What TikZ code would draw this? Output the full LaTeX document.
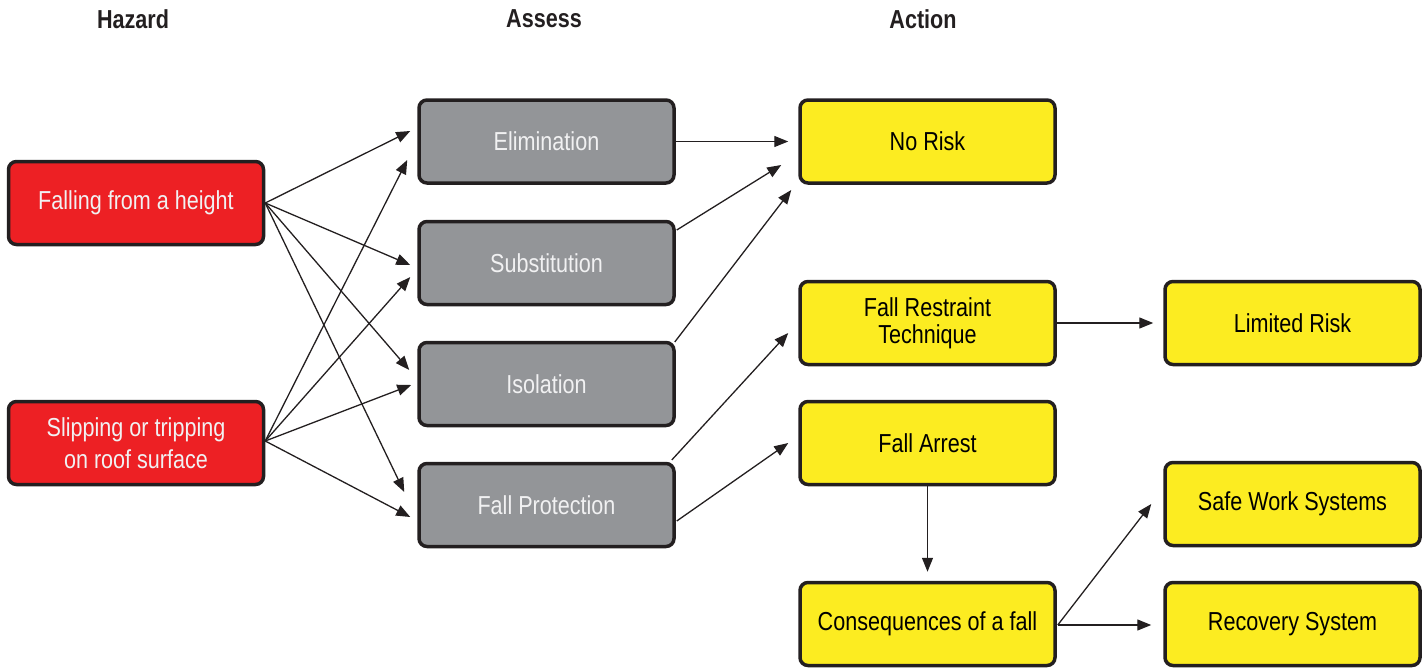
\documentclass[tikz,border=0pt]{standalone}
\usepackage{fontspec}
\setmainfont[FakeStretch=0.83]{Liberation Sans}
\usetikzlibrary{arrows.meta,calc}
\definecolor{hazred}{HTML}{ED2024}
\definecolor{assgray}{HTML}{939598}
\definecolor{actyellow}{HTML}{FCEC21}
\definecolor{edge}{HTML}{231F20}
\definecolor{lighttext}{HTML}{F1F1F2}
\tikzset{
  box/.style={draw=edge, line width=3.5pt, rounded corners=8pt, minimum width=255pt,
    minimum height=83pt, inner sep=0pt, align=center, font=\fontsize{26}{29}\selectfont},
  hazbox/.style={box, fill=hazred, text=lighttext},
  assbox/.style={box, fill=assgray, text=lighttext},
  actbox/.style={box, fill=actyellow, text=black},
  head/.style={font=\fontsize{26}{29}\selectfont\bfseries, text=edge},
  conn/.style={draw=edge, line width=1.3pt, -{Triangle[length=14pt,width=11pt]}}
}
\begin{document}
\begin{tikzpicture}[x=1pt,y=-1pt]
\useasboundingbox (0,0) rectangle (1427,669);
% headers
\node[head] (h1) at (133,19) {Hazard};
\node[head] (h2) at (544,19) {Assess};
\node[head] (h3) at (923,19) {Action};
% hazard
\node[hazbox] (fall) at (136,203) {Falling from a height};
\node[hazbox] (slip) at (136,443) {Slipping or tripping\\[3pt]on roof surface};
% assess
\node[assbox] (elim) at (546.5,141.5) {Elimination};
\node[assbox] (subst) at (546.5,263) {Substitution};
\node[assbox] (iso) at (546.5,384) {Isolation};
\node[assbox] (fp) at (546.5,505) {Fall Protection};
% action
\node[actbox] (norisk) at (927.5,141.5) {No Risk};
\node[actbox] (restr) at (927.5,323) {Fall Restraint\\[-2pt]Technique};
\node[actbox] (arrest) at (927.5,443) {Fall Arrest};
\node[actbox] (cons) at (927.5,624) {Consequences of a fall};
\node[actbox] (limited) at (1292.5,323) {Limited Risk};
\node[actbox] (safe) at (1292.5,504) {Safe Work Systems};
\node[actbox] (recov) at (1292.5,624) {Recovery System};
% hazard -> assess
\draw[conn] (fall.east) -- ($(elim.west)+(-7,-10.5)$);
\draw[conn] (fall.east) -- ($(subst.west)+(-7,2)$);
\draw[conn] (fall.east) -- ($(iso.west)+(-8,-14)$);
\draw[conn] (fall.east) -- ($(fp.west)+(-13,-13)$);
\draw[conn] ($(slip.east)+(0,-2)$) -- ($(elim.west)+(-10,18.5)$);
\draw[conn] ($(slip.east)+(0,-2)$) -- ($(subst.west)+(-7,14)$);
\draw[conn] ($(slip.east)+(0,-2)$) -- ($(iso.west)+(-6,1)$);
\draw[conn] ($(slip.east)+(0,-2)$) -- ($(fp.west)+(-7,12)$);
% assess -> action
\draw[conn] (elim.east) -- ($(norisk.west)+(-10,0)$);
\draw[conn] ($(subst.east)+(1,-33)$) -- ($(norisk.west)+(-17,23.5)$);
\draw[conn] ($(iso.east)+(-1,-42)$) -- ($(norisk.west)+(-7,48.5)$);
\draw[conn] ($(fp.east)+(-4,-45)$) -- ($(restr.west)+(-10,10)$);
\draw[conn] ($(fp.east)+(1,16)$) -- ($(arrest.west)+(-10,0)$);
% action chain
\draw[conn] (restr.east) -- ($(limited.west)+(-10,0)$);
\draw[conn] (arrest.south) -- ($(cons.north)+(0,-9)$);
\draw[conn] ($(cons.east)+(1,1)$) -- ($(safe.west)+(-12,0)$);
\draw[conn] ($(cons.east)+(1,1)$) -- ($(recov.west)+(-12,1)$);
\end{tikzpicture}
\end{document}
